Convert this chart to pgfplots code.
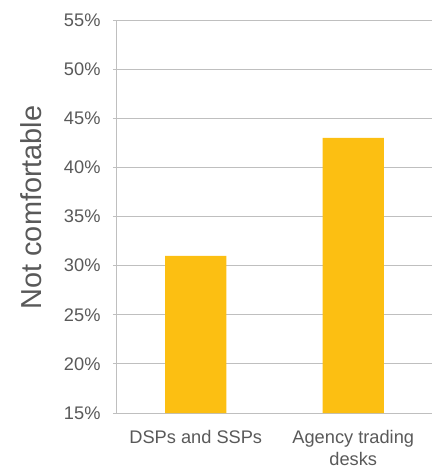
\documentclass[border=0pt]{standalone}
\usepackage{pgfplots}
\pgfplotsset{compat=1.18}
\usepackage{fontspec}
\setmainfont{Liberation Sans}
\usetikzlibrary{calc}
\definecolor{barc}{RGB}{252,191,18}
\definecolor{gridc}{RGB}{191,191,191}
\definecolor{txt}{RGB}{89,89,89}
\begin{document}
\begin{tikzpicture}
\begin{axis}[name=ax, scale only axis, width=315bp, height=393bp,
  xmin=-0.5, xmax=1.5, ymin=15, ymax=55,
  ytick={15,20,...,55}, yticklabel={\pgfmathprintnumber{\tick}\%},
  /pgf/number format/assume math mode=true,
  axis x line*=bottom, axis y line*=left,
  axis line style={gridc, line width=1bp, -},
  ymajorgrids, major grid style={gridc, line width=1bp},
  tick align=outside, major tick length=4bp, tick style={gridc, line width=1bp},
  xtick={0,1}, xticklabels={DSPs and SSPs, {Agency trading\\desks}},
  xtick style={draw=none},
  x tick label style={align=center, yshift=-10bp},
  y tick label style={xshift=-9bp},
  extra x ticks={-0.5,0.5,1.5}, extra x tick labels={},
  extra x tick style={major tick length=8bp, grid=none, tick style={gridc, line width=1bp}},
  tick label style={font=\fontsize{18.3}{22}\selectfont, text=txt},
  ylabel={Not comfortable},
  y label style={at={(axis description cs:-0.273,0.523)}, anchor=center, font=\fontsize{29}{32}\selectfont, text=txt},
]
\addplot[ybar, bar width=0.39, fill=barc, draw=none] coordinates {(0,31) (1,43)};
\end{axis}
\pgfresetboundingbox
\path ($(ax.south west)+(-117bp,-57bp)$) rectangle ($(ax.north east)+(2bp,20bp)$);
\end{tikzpicture}
\end{document}
